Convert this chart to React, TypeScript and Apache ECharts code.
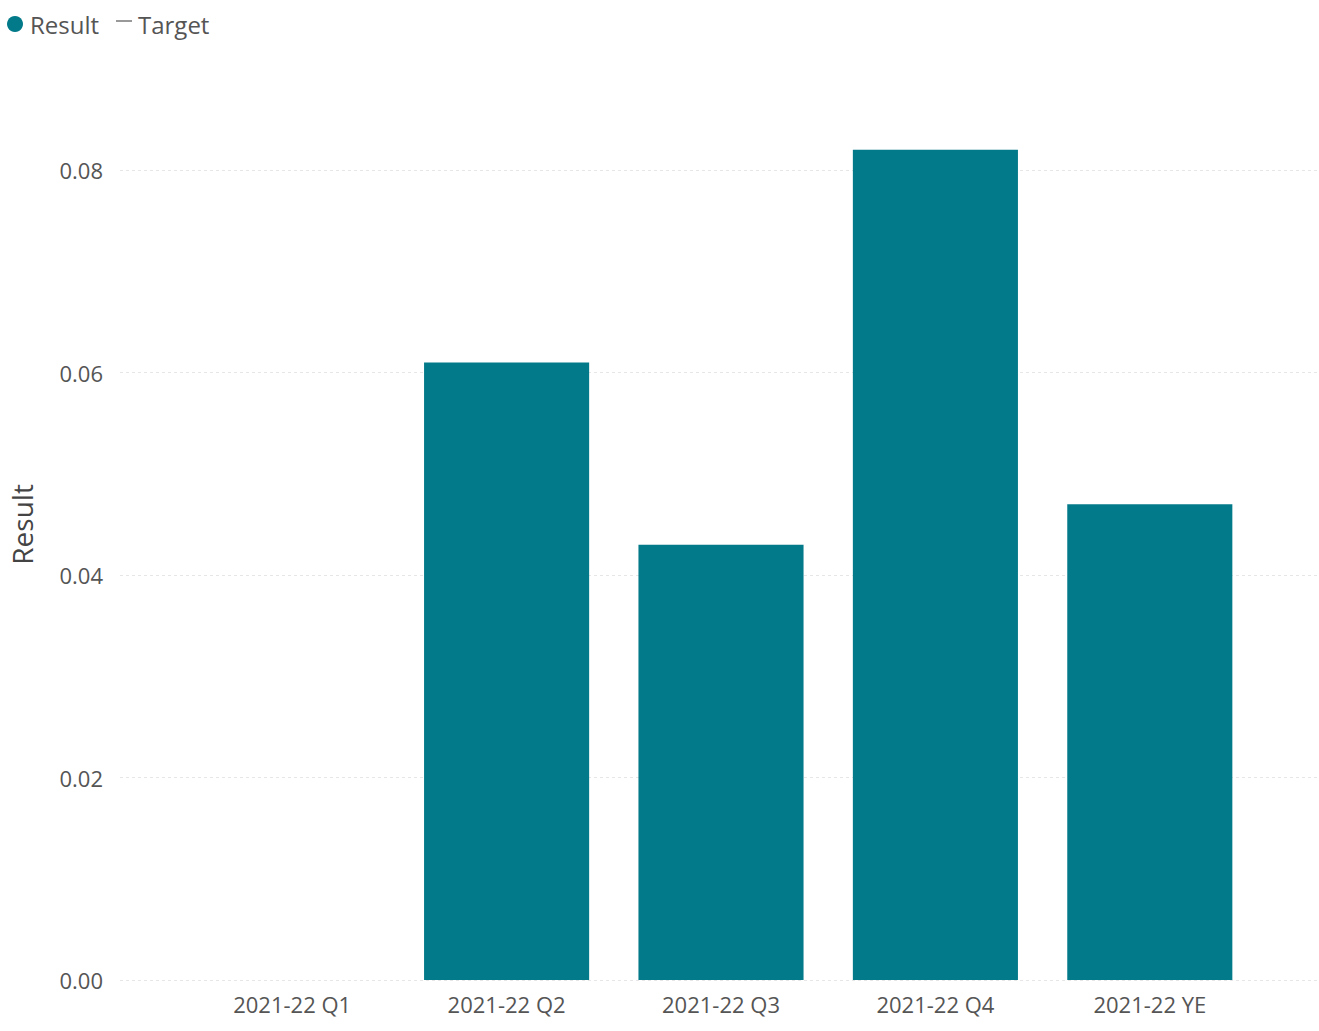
import React, { useEffect, useRef } from "react";
import * as echarts from "echarts";

const categories = ["2021-22 Q1", "2021-22 Q2", "2021-22 Q3", "2021-22 Q4", "2021-22 YE"];
const resultValues: (number | null)[] = [null, 0.061, 0.043, 0.082, 0.047];
const targetValues: (number | null)[] = [null, null, null, null, null];
const yTicks = [0, 0.02, 0.04, 0.06, 0.08];

const TEAL = "#037A89";
const FONT = "'Segoe UI', 'Open Sans', 'Noto Sans', sans-serif";

export default function App() {
  const ref = useRef<HTMLDivElement>(null);
  useEffect(() => {
    if (!ref.current) return;
    const chart = echarts.init(ref.current, undefined, { renderer: "svg" });
    const yMax = 0.09;
    chart.setOption({
      animation: false,
      backgroundColor: "#ffffff",
      textStyle: { fontFamily: FONT },
      grid: [
        { left: 120, right: 0, top: 68.75, bottom: 51, outerBoundsMode: "none", containLabel: false },
        { left: 185, right: 62, top: 68.75, bottom: 51, outerBoundsMode: "none", containLabel: false },
      ],
      graphic: [
        { type: "circle", shape: { cx: 15, cy: 24, r: 8 }, style: { fill: TEAL } },
        {
          type: "text",
          x: 30,
          y: 24,
          style: { text: "Result", fontSize: 24, fill: "#555", fontFamily: FONT, verticalAlign: "middle" },
        },
        { type: "line", shape: { x1: 116, y1: 21, x2: 132, y2: 21 }, style: { stroke: "#999", lineWidth: 2 } },
        {
          type: "text",
          x: 138,
          y: 24,
          style: { text: "Target", fontSize: 24, fill: "#555", fontFamily: FONT, verticalAlign: "middle" },
        },
      ],
      xAxis: [
        { type: "category", gridIndex: 0, data: categories, show: false },
        {
          type: "category",
          gridIndex: 1,
          data: categories,
          axisLine: { show: false },
          axisTick: { show: false },
          axisLabel: { color: "#555", fontSize: 22, margin: 13, fontFamily: FONT },
        },
      ],
      yAxis: [
        {
          type: "value",
          gridIndex: 0,
          min: 0,
          max: yMax,
          interval: 0.02,
          name: "Result",
          nameLocation: "middle",
          nameGap: 84,
          nameRotate: 90,
          nameTextStyle: { color: "#444", fontSize: 28, fontFamily: FONT },
          axisLine: { show: false },
          axisTick: { show: false },
          axisLabel: {
            color: "#555",
            fontSize: 22,
            margin: 17,
            fontFamily: FONT,
            showMaxLabel: false,
            formatter: (v: number) => (yTicks.some((t) => Math.abs(t - v) < 1e-9) ? v.toFixed(2) : ""),
          },
          splitLine: { show: true, showMaxLine: false, lineStyle: { color: "#e6e6e6", type: [3, 3], width: 1 } },
        },
        { type: "value", gridIndex: 1, min: 0, max: yMax, show: false },
      ],
      series: [
        {
          name: "Result",
          type: "bar",
          xAxisIndex: 1,
          yAxisIndex: 1,
          data: resultValues,
          barWidth: "77%",
          itemStyle: { color: TEAL },
        },
        {
          name: "Target",
          type: "line",
          xAxisIndex: 1,
          yAxisIndex: 1,
          data: targetValues,
          lineStyle: { color: "#999" },
          itemStyle: { color: "#999" },
          showSymbol: false,
        },
      ],
    });
    return () => chart.dispose();
  }, []);
  return <div ref={ref} style={{ position: "fixed", left: 0, top: 0, width: 1319, height: 1031 }} />;
}
